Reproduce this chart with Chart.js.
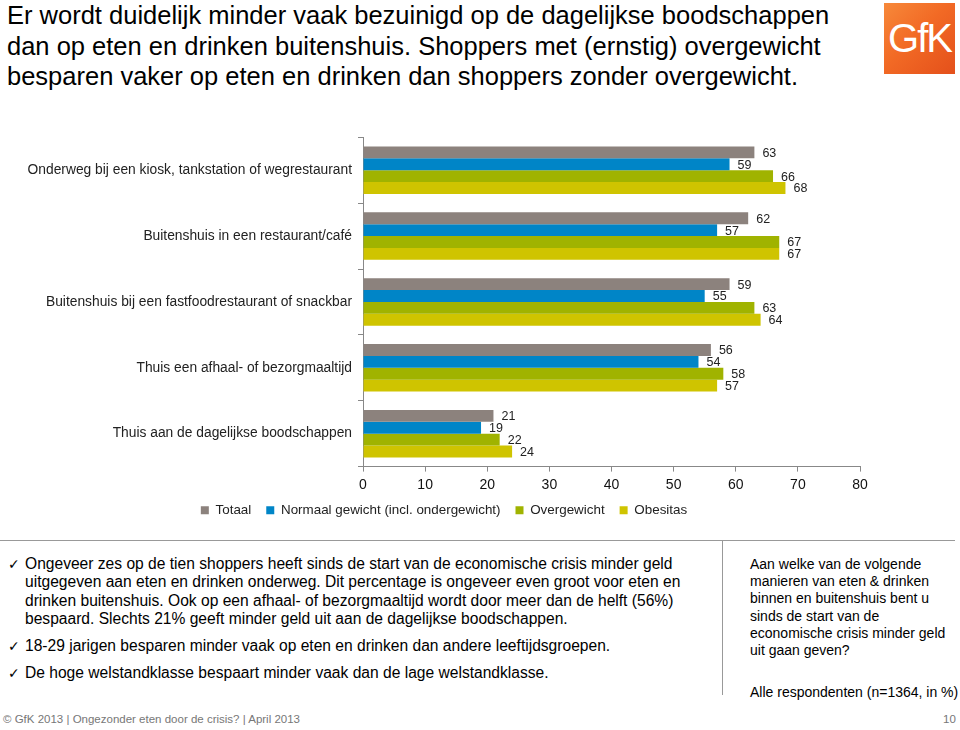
<!DOCTYPE html>
<html>
<head>
<meta charset="utf-8">
<script src="https://cdn.jsdelivr.net/npm/chart.js@4/dist/chart.umd.min.js"></script>
<style>
  body { margin: 0; background: #fff; font-family: "Liberation Sans", Arial, sans-serif; }
  #page { position: relative; width: 960px; height: 730px; overflow: hidden; }
  .abs { position: absolute; }
  #title { left: 7px; top: 0px; font-size: 25.5px; line-height: 30.5px; color: #000; white-space: nowrap; }
  #logo { left: 884px; top: 3px; width: 71px; height: 71px;
          background: linear-gradient(135deg, #f7893a 0%, #f26a25 45%, #e4501b 100%);
          color: #fff; font-size: 40px; line-height: 71px; text-align: center; letter-spacing: -2px; }
  #wrap { left: 0px; top: 123px; width: 888px; height: 404px; }
  #hline { left: 0px; top: 540px; width: 955px; height: 1px; background: #999; }
  #vline { left: 722px; top: 541px; width: 1px; height: 154px; background: #999; }
  .bul { left: 8px; font-size: 15.6px; line-height: 18.3px; color: #000; white-space: nowrap; }
  .bul span.ck { position: absolute; left: 0; font-family: "DejaVu Sans"; font-size: 14px; }
  .bul div { margin-left: 17px; }
  #side { left: 750px; top: 556px; font-size: 14px; line-height: 17.2px; color: #000; white-space: nowrap; }
  #n { left: 750px; top: 684px; font-size: 14px; color: #000; white-space: nowrap; }
  #foot { left: 3px; top: 713px; font-size: 11.5px; color: #777; }
  #pg { left: 943px; top: 713px; font-size: 11.5px; color: #777; }
</style>
</head>
<body>
<div id="page">
  <div id="title" class="abs">Er wordt duidelijk minder vaak bezuinigd op de dagelijkse boodschappen<br>dan op eten en drinken buitenshuis. Shoppers met (ernstig) overgewicht<br>besparen vaker op eten en drinken dan shoppers zonder overgewicht.</div>
  <div id="logo" class="abs">GfK</div>
  <div id="wrap" class="abs"><canvas id="myChart"></canvas></div>
  <div id="hline" class="abs"></div>
  <div id="vline" class="abs"></div>
  <div class="abs bul" style="top:555px"><span class="ck">✓</span><div>Ongeveer zes op de tien shoppers heeft sinds de start van de economische crisis minder geld<br>uitgegeven aan eten en drinken onderweg. Dit percentage is ongeveer even groot voor eten en<br>drinken buitenshuis. Ook op een afhaal- of bezorgmaaltijd wordt door meer dan de helft (56%)<br>bespaard. Slechts 21% geeft minder geld uit aan de dagelijkse boodschappen.</div></div>
  <div class="abs bul" style="top:637px"><span class="ck">✓</span><div>18-29 jarigen besparen minder vaak op eten en drinken dan andere leeftijdsgroepen.</div></div>
  <div class="abs bul" style="top:664px"><span class="ck">✓</span><div>De hoge welstandklasse bespaart minder vaak dan de lage welstandklasse.</div></div>
  <div id="side" class="abs">Aan welke van de volgende<br>manieren van eten &amp; drinken<br>binnen en buitenshuis bent u<br>sinds de start van de<br>economische crisis minder geld<br>uit gaan geven?</div>
  <div id="n" class="abs">Alle respondenten (n=1364, in %)</div>
  <div id="foot" class="abs">© GfK 2013 | Ongezonder eten door de crisis? | April 2013</div>
  <div id="pg" class="abs">10</div>
</div>
<script>
var categories = [
    'Onderweg bij een kiosk, tankstation of wegrestaurant',
    'Buitenshuis in een restaurant/café',
    'Buitenshuis bij een fastfoodrestaurant of snackbar',
    'Thuis een afhaal- of bezorgmaaltijd',
    'Thuis aan de dagelijkse boodschappen'
];
var seriesNames = ['Totaal', 'Normaal gewicht (incl. ondergewicht)', 'Overgewicht', 'Obesitas'];
var totaal = [63, 62, 59, 56, 21];
var normaal = [59, 57, 55, 54, 19];
var overgewicht = [66, 67, 63, 58, 22];
var obesitas = [68, 67, 64, 57, 24];
var xTicks = [0, 10, 20, 30, 40, 50, 60, 70, 80];

var colors = ['#8c827d', '#0085c7', '#a0b300', '#cfc400'];
var seriesData = [totaal, normaal, overgewicht, obesitas];

var datasets = [];
for (let i = 0; i < seriesNames.length; i++) {
    datasets.push({
        label: seriesNames[i],
        data: seriesData[i],
        backgroundColor: colors[i],
        borderWidth: 0,
        categoryPercentage: 0.72,
        barPercentage: 1.0
    });
}

// value labels just right of each bar end
var valueLabels = {
    id: 'valueLabels',
    afterDatasetsDraw: function(chart) {
        var c = chart.ctx;
        c.save();
        c.font = '12.5px "Liberation Sans", Arial, sans-serif';
        c.fillStyle = '#222';
        c.textAlign = 'left';
        c.textBaseline = 'middle';
        chart.data.datasets.forEach(function(ds, di) {
            var meta = chart.getDatasetMeta(di);
            meta.data.forEach(function(bar, i) {
                c.fillText(ds.data[i], bar.x + 8, bar.y + 1);
            });
        });
        c.restore();
    }
};

var ctx = document.getElementById('myChart');
var myChart = new Chart(ctx, {
    type: 'bar',
    data: {
        labels: categories,
        datasets: datasets
    },
    plugins: [valueLabels],
    options: {
        indexAxis: 'y',
        responsive: true,
        maintainAspectRatio: false,
        animation: false,
        layout: { padding: { top: 0, left: 28, right: 28, bottom: 0 } },
        scales: {
            x: {
                min: xTicks[0],
                max: xTicks[xTicks.length - 1],
                afterBuildTicks: function(scale) {
                    scale.ticks = xTicks.map(function(v) { return { value: v }; });
                },
                ticks: { font: { size: 14, family: '"Liberation Sans", Arial' }, color: '#111', padding: 5, maxRotation: 0 },
                grid: { drawOnChartArea: false, tickLength: 5, color: '#888' },
                border: { color: '#888' }
            },
            y: {
                afterFit: function(scale) { scale.width = 335; },
                ticks: { font: { size: 13.8, family: '"Liberation Sans", Arial' }, color: '#222', padding: 6 },
                grid: { drawOnChartArea: false, offset: true, tickLength: 5, color: '#888' },
                border: { color: '#888' }
            }
        },
        plugins: {
            legend: {
                position: 'bottom',
                // empty title with negative padding pulls the legend row closer to the axis
                title: { display: true, text: '', font: { size: 1 }, padding: { top: 0, bottom: -11 } },
                labels: {
                    boxWidth: 8,
                    boxHeight: 8,
                    padding: 15,
                    color: '#222',
                    font: { size: 13.4, family: '"Liberation Sans", Arial' }
                }
            },
            tooltip: { enabled: false }
        }
    }
});
</script>
</body>
</html>
